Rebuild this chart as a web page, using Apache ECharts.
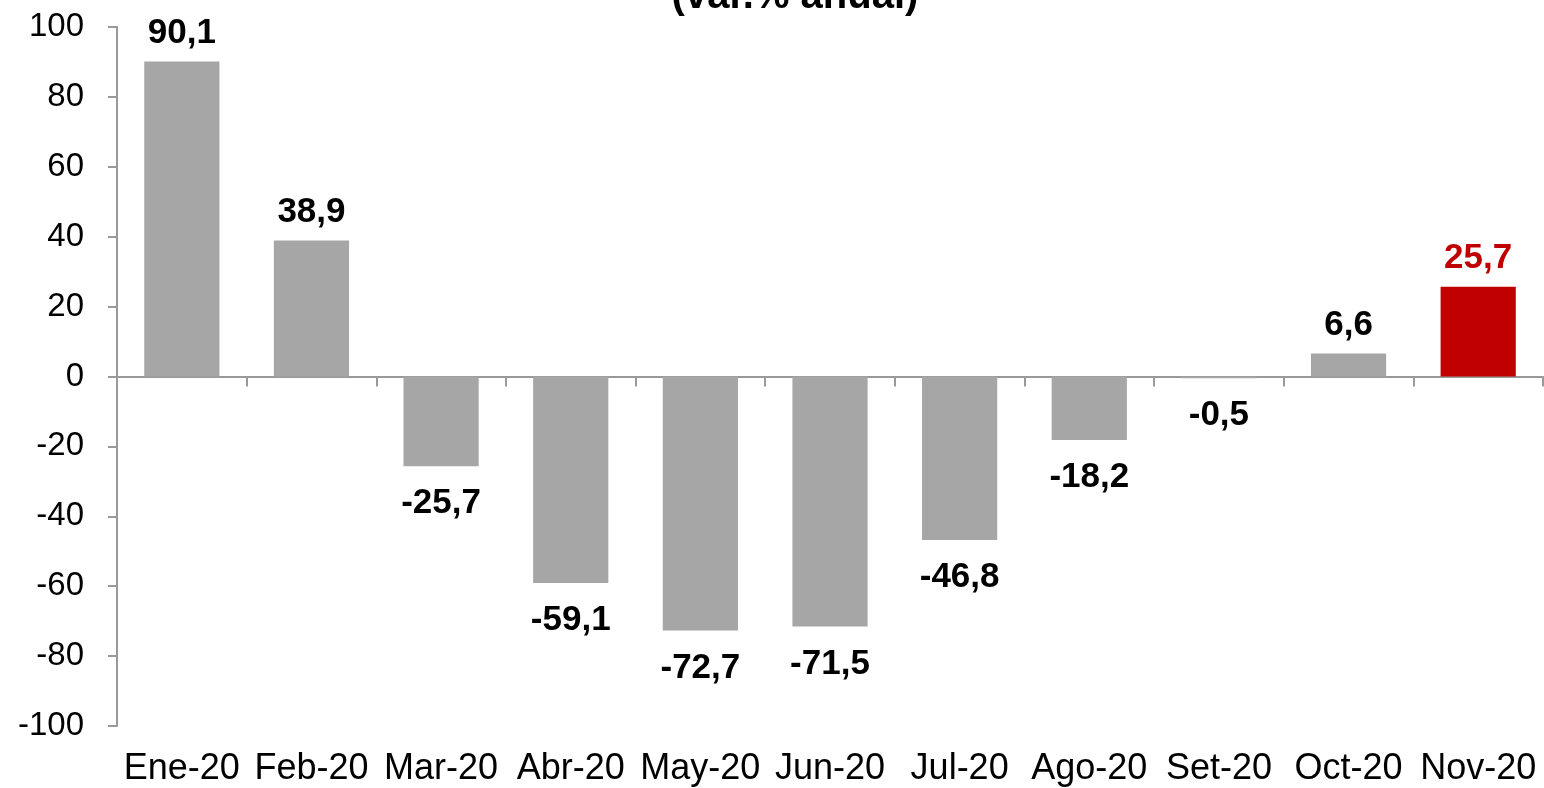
<!DOCTYPE html>
<html>
<head>
<meta charset="utf-8">
<script src="https://cdn.jsdelivr.net/npm/echarts@6/dist/echarts.min.js"></script>
<style>
  html, body { margin: 0; padding: 0; background: #fff; }
  #chart { width: 1544px; height: 788px; }
</style>
</head>
<body>
<div id="chart"></div>
<script>
// datos
const months = ["Ene-20", "Feb-20", "Mar-20", "Abr-20", "May-20", "Jun-20", "Jul-20", "Ago-20", "Set-20", "Oct-20", "Nov-20"];
const values = [90.1, 38.9, -25.7, -59.1, -72.7, -71.5, -46.8, -18.2, -0.5, 6.6, 25.7];
const latestMonth = "Nov-20";

const font = "'Liberation Sans', Arial, sans-serif";
const grey = "#A6A6A6";
const red = "#C00000";

const chart = echarts.init(document.getElementById("chart"));

const seriesData = values.map((v, i) => {
  const isLatest = months[i] === latestMonth;
  return {
    value: v,
    itemStyle: { color: isLatest ? red : grey },
    label: {
      position: v < 0 ? "bottom" : "top",
      distance: v < 0 ? 20 : 11,
      color: isLatest ? red : "#000",
    },
  };
});

chart.setOption({
  animation: false,
  title: {
    text: "(var.% anual)",
    left: 790,
    top: -28,
    textAlign: "center",
    textStyle: { fontFamily: font, fontSize: 40, fontWeight: "bold", color: "#000" },
  },
  grid: { left: 117, right: 1, top: 27, bottom: 62 },
  xAxis: [
    {
      // eje en cero con marcas
      type: "category",
      data: months,
      axisLine: { onZero: true, lineStyle: { color: "#999", width: 2 } },
      axisTick: { show: true, length: 10, lineStyle: { color: "#999", width: 2 } },
      axisLabel: { show: false },
    },
    {
      // etiquetas abajo
      type: "category",
      data: months,
      position: "bottom",
      axisLine: { show: false, onZero: false },
      axisTick: { show: false },
      axisLabel: { interval: 0, margin: 25, fontFamily: font, fontSize: 36, color: "#000" },
    },
  ],
  yAxis: {
    type: "value",
    min: -100,
    max: 100,
    interval: 20,
    splitLine: { show: false },
    axisLine: { show: true, lineStyle: { color: "#999", width: 2 } },
    axisTick: { show: true, length: 9, lineStyle: { color: "#999", width: 2 } },
    axisLabel: { margin: 33, fontFamily: font, fontSize: 33, color: "#000" },
  },
  series: [
    {
      type: "bar",
      xAxisIndex: 0,
      barWidth: "58%",
      data: seriesData,
      label: {
        show: true,
        fontFamily: font,
        fontSize: 35,
        fontWeight: "bold",
        formatter: (p) => String(p.value).replace(".", ","),
      },
    },
  ],
});
</script>
</body>
</html>
